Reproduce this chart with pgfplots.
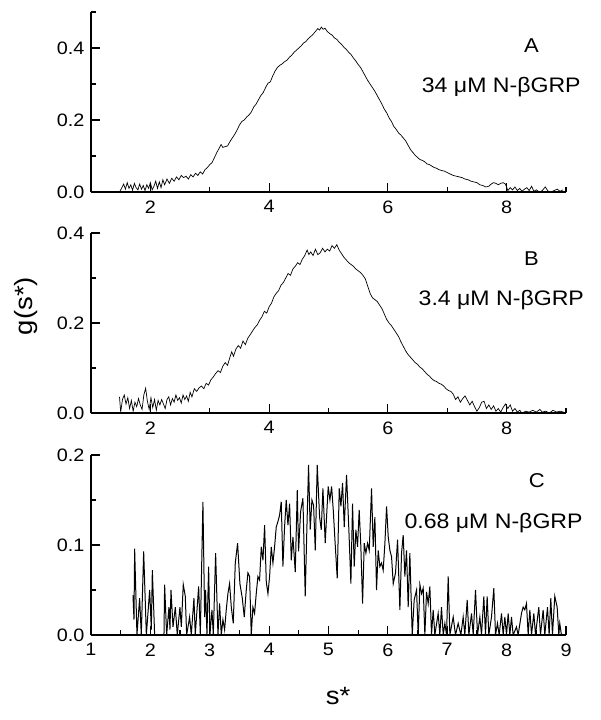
\documentclass[border=0pt]{standalone}
\usepackage{fontspec}
\setmainfont[FakeStretch=1.1]{Liberation Sans}
\usepackage{pgfplots}
\pgfplotsset{compat=1.18}

\pgfplotsset{
  gpanel/.style={
    scale only axis, width=475pt, height=180pt,
    xmin=1, xmax=9, ymin=0,
    clip mode=individual,
    axis x line=bottom, axis y line=left,
    axis line style={-, line width=1.4pt},
    tick style={line width=1.2pt, black},
    major tick length=9pt, minor tick length=5pt,
    tick align=inside,
    /pgf/number format/assume math mode=true,
    ticklabel style={font=\fontsize{18}{20}\selectfont},
    xticklabel style={yshift=-5pt},
    yticklabel style={xshift=-3pt, /pgf/number format/fixed,
      /pgf/number format/fixed zerofill, /pgf/number format/precision=1},
    anchor=south west,
  },
}
\tikzset{
  tag/.style={font=\fontsize{20}{22}\selectfont, anchor=center},
  conc/.style={font=\fontsize{21}{24}\selectfont, anchor=center},
}

\begin{document}
\begin{tikzpicture}
\path (0pt,0pt) rectangle (601pt,-720pt);

% panel A
\begin{axis}[gpanel, at={(91pt,-192pt)}, ymax=0.5,
  xtick={2,4,6,8}, minor xtick={3,5,7,9},
  ytick={0,0.2,0.4}, minor ytick={0.1,0.3,0.5}]
\addplot[black, line width=0.7pt, mark=none] coordinates {
(1.48,0.000) (1.52,0.012) (1.55,0.022) (1.58,0.008) (1.61,0.026) (1.64,0.010)
(1.67,0.020) (1.70,0.005) (1.73,0.024) (1.76,0.012) (1.79,0.006) (1.82,0.022)
(1.85,0.008) (1.88,0.018) (1.91,0.004) (1.94,0.020) (1.97,0.010) (2.00,0.026)
(2.03,0.006) (2.06,0.016) (2.09,0.030) (2.12,0.010) (2.15,0.028) (2.18,0.012)
(2.21,0.034) (2.24,0.020) (2.28,0.036) (2.32,0.024) (2.36,0.038) (2.40,0.030)
(2.44,0.042) (2.48,0.034) (2.52,0.046) (2.56,0.040) (2.60,0.044) (2.64,0.036)
(2.68,0.048) (2.72,0.042) (2.76,0.052) (2.80,0.046) (2.84,0.056) (2.88,0.050)
(2.92,0.062) (2.96,0.068) (3.00,0.076) (3.04,0.082) (3.08,0.096) (3.12,0.110)
(3.16,0.122) (3.19,0.132) (3.22,0.124) (3.26,0.126) (3.30,0.128) (3.34,0.140)
(3.38,0.150) (3.42,0.160) (3.46,0.172) (3.50,0.186) (3.54,0.196) (3.58,0.200)
(3.62,0.208) (3.66,0.214) (3.70,0.222) (3.74,0.236) (3.78,0.244) (3.82,0.256)
(3.86,0.268) (3.90,0.276) (3.94,0.290) (3.98,0.302) (4.02,0.306) (4.06,0.322)
(4.10,0.336) (4.14,0.346) (4.18,0.352) (4.22,0.356) (4.26,0.362) (4.30,0.366)
(4.34,0.374) (4.38,0.380) (4.42,0.388) (4.46,0.394) (4.50,0.400) (4.54,0.406)
(4.58,0.414) (4.62,0.418) (4.66,0.426) (4.70,0.432) (4.74,0.438) (4.78,0.446)
(4.82,0.454) (4.85,0.450) (4.88,0.458) (4.91,0.452) (4.94,0.455) (4.98,0.446)
(5.02,0.440) (5.06,0.436) (5.10,0.428) (5.14,0.424) (5.18,0.416) (5.22,0.410)
(5.26,0.402) (5.30,0.396) (5.34,0.388) (5.38,0.382) (5.42,0.372) (5.46,0.364)
(5.50,0.354) (5.54,0.346) (5.58,0.334) (5.62,0.322) (5.66,0.310) (5.70,0.300)
(5.74,0.290) (5.78,0.280) (5.82,0.268) (5.86,0.256) (5.90,0.244) (5.94,0.230)
(5.98,0.220) (6.02,0.206) (6.06,0.196) (6.10,0.182) (6.14,0.174) (6.18,0.164)
(6.22,0.158) (6.26,0.150) (6.30,0.142) (6.34,0.130) (6.38,0.118) (6.42,0.110)
(6.46,0.102) (6.50,0.096) (6.54,0.090) (6.58,0.088) (6.62,0.084) (6.66,0.078)
(6.70,0.076) (6.74,0.072) (6.78,0.068) (6.82,0.066) (6.86,0.062) (6.90,0.060)
(6.95,0.058) (7.00,0.054) (7.05,0.050) (7.10,0.046) (7.15,0.044) (7.20,0.042)
(7.25,0.040) (7.30,0.036) (7.35,0.034) (7.40,0.030) (7.45,0.028) (7.50,0.026)
(7.55,0.020) (7.60,0.018) (7.65,0.014) (7.70,0.016) (7.74,0.022) (7.78,0.026)
(7.82,0.024) (7.86,0.020) (7.90,0.024) (7.94,0.026) (7.98,0.022) (8.02,0.004)
(8.06,0.012) (8.10,0.006) (8.14,0.014) (8.18,0.004) (8.22,0.010) (8.26,0.002)
(8.30,0.008) (8.34,0.012) (8.38,0.004) (8.42,0.016) (8.46,0.002) (8.50,0.006)
(8.55,0.000) (8.60,0.004) (8.65,0.014) (8.70,0.002) (8.75,0.000) (8.80,0.004)
(8.85,0.008) (8.90,0.002) (8.95,0.006)
};
\node[tag] at (axis cs:8.42,0.408) {A};
\node[conc] at (axis cs:7.91,0.292) {34 μM N-βGRP};
\end{axis}

% panel B
\begin{axis}[gpanel, at={(91pt,-413pt)}, ymax=0.4,
  xtick={2,4,6,8}, minor xtick={3,5,7,9},
  ytick={0,0.2,0.4}, minor ytick={0.1,0.3},
  ylabel={g(s*)},
  ylabel style={at={(axis description cs:-0.137,0.594)}, anchor=center,
    font=\fontsize{25}{28}\selectfont}]
\addplot[black, line width=0.7pt, mark=none] coordinates {
(1.48,0.036) (1.50,0.002) (1.53,0.030) (1.56,0.040) (1.59,0.020) (1.62,0.034)
(1.65,0.010) (1.68,0.028) (1.71,0.004) (1.74,0.024) (1.77,0.014) (1.80,0.032)
(1.83,0.018) (1.86,0.008) (1.89,0.040) (1.92,0.055) (1.95,0.026) (1.98,0.008)
(2.01,0.034) (2.04,0.012) (2.07,0.030) (2.10,0.006) (2.13,0.028) (2.16,0.018)
(2.19,0.030) (2.22,0.020) (2.25,0.010) (2.28,0.030) (2.31,0.036) (2.34,0.018)
(2.37,0.032) (2.40,0.024) (2.43,0.040) (2.46,0.028) (2.49,0.034) (2.52,0.022)
(2.55,0.040) (2.58,0.030) (2.61,0.038) (2.64,0.026) (2.67,0.046) (2.70,0.036)
(2.74,0.054) (2.78,0.048) (2.82,0.056) (2.86,0.060) (2.90,0.054) (2.94,0.066)
(2.98,0.062) (3.02,0.074) (3.06,0.080) (3.10,0.088) (3.14,0.094) (3.18,0.090)
(3.22,0.104) (3.26,0.112) (3.30,0.106) (3.34,0.124) (3.37,0.136) (3.40,0.126)
(3.44,0.142) (3.48,0.150) (3.52,0.144) (3.56,0.160) (3.60,0.152) (3.64,0.166)
(3.68,0.174) (3.72,0.182) (3.76,0.190) (3.80,0.196) (3.84,0.206) (3.88,0.214)
(3.92,0.226) (3.96,0.222) (4.00,0.236) (4.04,0.244) (4.08,0.258) (4.12,0.266)
(4.16,0.272) (4.20,0.284) (4.24,0.290) (4.28,0.300) (4.32,0.310) (4.36,0.306)
(4.40,0.320) (4.44,0.326) (4.48,0.334) (4.52,0.330) (4.56,0.342) (4.60,0.350)
(4.64,0.362) (4.67,0.352) (4.70,0.358) (4.74,0.350) (4.78,0.364) (4.82,0.352)
(4.86,0.356) (4.90,0.366) (4.94,0.358) (4.98,0.364) (5.02,0.360) (5.06,0.372)
(5.10,0.366) (5.14,0.374) (5.18,0.362) (5.22,0.354) (5.26,0.346) (5.30,0.340)
(5.34,0.334) (5.38,0.330) (5.42,0.326) (5.46,0.320) (5.50,0.316) (5.54,0.312)
(5.58,0.306) (5.62,0.298) (5.66,0.282) (5.70,0.266) (5.74,0.256) (5.78,0.252)
(5.82,0.248) (5.86,0.240) (5.90,0.232) (5.94,0.220) (5.98,0.208) (6.02,0.200)
(6.06,0.194) (6.10,0.186) (6.14,0.178) (6.18,0.170) (6.22,0.158) (6.26,0.148)
(6.30,0.138) (6.34,0.130) (6.38,0.124) (6.42,0.118) (6.46,0.112) (6.50,0.108)
(6.54,0.102) (6.58,0.098) (6.62,0.092) (6.66,0.086) (6.70,0.082) (6.74,0.076)
(6.78,0.072) (6.82,0.070) (6.86,0.066) (6.90,0.064) (6.94,0.060) (6.98,0.054)
(7.02,0.050) (7.06,0.048) (7.10,0.042) (7.14,0.030) (7.18,0.036) (7.22,0.024)
(7.26,0.032) (7.30,0.038) (7.34,0.028) (7.38,0.018) (7.42,0.026) (7.46,0.014)
(7.50,0.004) (7.54,0.012) (7.58,0.024) (7.62,0.026) (7.66,0.010) (7.70,0.018)
(7.74,0.008) (7.78,0.016) (7.82,0.004) (7.86,0.010) (7.90,0.002) (7.94,0.012)
(7.98,0.020) (8.02,0.010) (8.06,0.018) (8.10,0.004) (8.14,0.010) (8.18,0.002)
(8.22,0.006) (8.26,0.000) (8.32,0.004) (8.38,0.002) (8.44,0.006) (8.50,0.002)
(8.56,0.008) (8.60,0.002) (8.66,0.004) (8.72,0.000) (8.78,0.006) (8.84,0.002)
(8.90,0.004) (8.96,0.002)
};
\node[tag] at (axis cs:8.42,0.344) {B};
\node[conc] at (axis cs:7.91,0.250) {3.4 μM N-βGRP};
\end{axis}

% panel C
\begin{axis}[gpanel, at={(91pt,-635pt)}, ymax=0.2,
  xtick={1,2,...,9}, minor xtick={1.5,2.5,...,8.5},
  ytick={0,0.1,0.2}, minor ytick={0.05,0.15},
  xlabel={s*},
  xlabel style={at={(axis description cs:0.52,-0.34)}, anchor=center,
    font=\fontsize{25}{28}\selectfont}]
\addplot[black, line width=1.0pt, mark=none] coordinates {
(1.707,0.044) (1.724,0.017) (1.735,0.096) (1.774,0) (1.819,0.041) (1.847,0)
(1.887,0.093) (1.932,0) (1.988,0.050) (2.016,0.006) (2.033,0.072) (2.072,0)
(2.229,0) (2.240,0.056) (2.274,0) (2.313,0.031) (2.330,0.006) (2.347,0.050)
(2.381,0.009) (2.420,0.031) (2.453,0) (2.498,0.031) (2.521,0.009) (2.554,0.056)
(2.588,0.043) (2.611,0) (2.661,0.020) (2.689,0) (2.734,0.041) (2.756,0)
(2.813,0.054) (2.841,0) (2.885,0.148) (2.914,0.020) (2.930,0.050) (2.953,0)
(2.981,0.076) (3.003,0) (3.037,0.028) (3.060,0) (3.099,0.091) (3.138,0)
(3.166,0.035) (3.194,0) (3.222,0.017) (3.250,0.006) (3.278,0.028) (3.306,0.046)
(3.334,0.057) (3.363,0.031) (3.396,0.013) (3.430,0.080) (3.469,0.102) (3.508,0.057)
(3.548,0.041) (3.581,0.020) (3.615,0.050) (3.643,0.069) (3.671,0.065) (3.699,0)
(3.727,0.031) (3.755,0.024) (3.783,0.046) (3.811,0.065) (3.839,0.061) (3.868,0.098)
(3.896,0.083) (3.924,0.122) (3.952,0.059) (3.980,0.046) (4.008,0.065) (4.036,0.098)
(4.064,0.080) (4.092,0.098) (4.120,0.120) (4.148,0.126) (4.176,0.133) (4.204,0.148)
(4.232,0.076) (4.260,0.120) (4.288,0.150) (4.317,0.122) (4.345,0.146) (4.373,0.083)
(4.401,0.109) (4.440,0.070) (4.474,0.161) (4.496,0.093) (4.530,0.137) (4.569,0.152)
(4.608,0.043) (4.631,0.106) (4.664,0.189) (4.692,0.117) (4.721,0.150) (4.749,0.144)
(4.777,0.094) (4.810,0.189) (4.850,0.131) (4.878,0.117) (4.906,0.163) (4.945,0.102)
(4.967,0.131) (4.995,0.165) (5.024,0.150) (5.052,0.165) (5.080,0.139) (5.108,0.106)
(5.147,0.063) (5.181,0.163) (5.209,0.143) (5.237,0.169) (5.265,0.120) (5.304,0.178)
(5.343,0.117) (5.377,0.057) (5.405,0.146) (5.433,0.076) (5.461,0.117) (5.489,0.098)
(5.517,0.139) (5.545,0.098) (5.574,0.035) (5.602,0.102) (5.630,0.091) (5.658,0.102)
(5.686,0.094) (5.725,0.163) (5.753,0.098) (5.781,0.131) (5.809,0.050) (5.837,0.094)
(5.865,0.076) (5.893,0.080) (5.921,0.072) (5.950,0.102) (5.978,0.143) (6.006,0.109)
(6.034,0.094) (6.062,0.087) (6.090,0.057) (6.129,0.069) (6.163,0.106) (6.202,0.028)
(6.230,0.091) (6.258,0.111) (6.286,0.065) (6.314,0.094) (6.342,0.031) (6.370,0.091)
(6.410,0) (6.443,0.039) (6.483,0.050) (6.511,0) (6.539,0.056) (6.567,0.046)
(6.595,0.052) (6.623,0) (6.651,0.048) (6.679,0.035) (6.707,0.054) (6.735,0)
(6.763,0.028) (6.791,0) (6.847,0.024) (6.875,0) (6.903,0.031) (6.932,0)
(6.960,0.013) (6.988,0) (7.016,0.065) (7.044,0) (7.100,0.020) (7.139,0)
(7.184,0.013) (7.229,0) (7.268,0.020) (7.296,0) (7.336,0.039) (7.364,0)
(7.409,0.024) (7.437,0) (7.476,0.050) (7.510,0) (7.549,0.020) (7.577,0)
(7.616,0.043) (7.644,0) (7.672,0.043) (7.700,0) (7.745,0.020) (7.784,0.052)
(7.813,0) (7.846,0.013) (7.874,0) (7.914,0.024) (7.942,0) (7.970,0.020)
(7.998,0) (8.026,0.024) (8.054,0) (8.082,0.020) (8.110,0) (8.166,0.009)
(8.194,0) (8.250,0.024) (8.278,0.031) (8.306,0.028) (8.334,0.035) (8.363,0)
(8.391,0.028) (8.419,0) (8.458,0.024) (8.486,0) (8.542,0.031) (8.570,0)
(8.615,0.028) (8.643,0) (8.688,0.031) (8.716,0) (8.744,0.041) (8.772,0)
(8.811,0.043) (8.851,0.031) (8.879,0) (8.895,0.013) (8.923,0)
};
\node[tag] at (axis cs:8.51,0.171) {C};
\node[conc] at (axis cs:7.78,0.124) {0.68 μM N-βGRP};
\end{axis}
\end{tikzpicture}
\end{document}
